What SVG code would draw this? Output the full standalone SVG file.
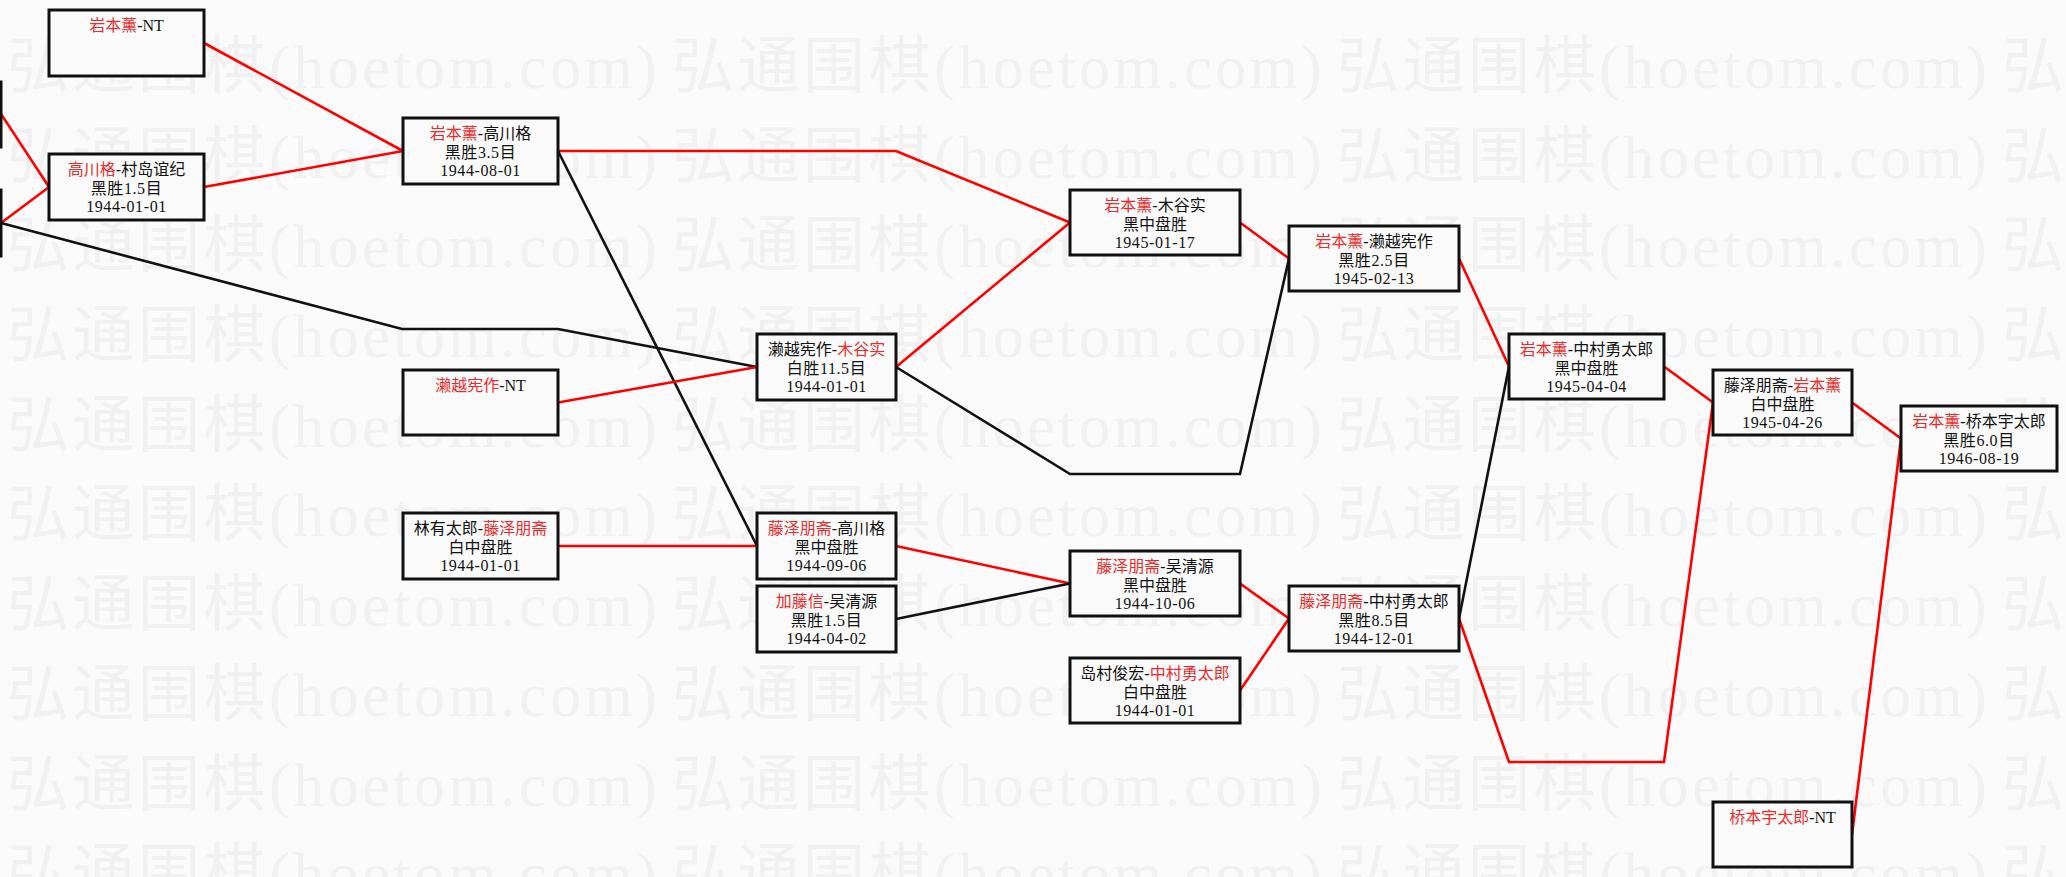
<svg xmlns="http://www.w3.org/2000/svg" xmlns:xlink="http://www.w3.org/1999/xlink" width="2066" height="877" viewBox="0 0 2066 877">
<style>
.bg{fill:#fbfbfb}
.wm{font-family:"Liberation Serif","Noto Sans CJK SC",serif;font-size:62px;fill:#f1f1f1}
.box{fill:#fbfbfb;stroke:#111;stroke-width:3}
.t{font-family:"Liberation Serif","Noto Sans CJK SC",serif;font-size:16px;fill:#111;text-anchor:middle}
.d{letter-spacing:0.6px}
.r{fill:#ee2a2a}
.lr{fill:none;stroke:#ff0000;stroke-width:2.6;stroke-linejoin:miter}
.lb{fill:none;stroke:#111;stroke-width:2.6;stroke-linejoin:miter}
</style>
<defs>
<g id="wmrow">
<text class="wm" x="7" y="0" textLength="650" lengthAdjust="spacing">弘通围棋(hoetom.com)</text>
<text class="wm" x="672" y="0" textLength="650" lengthAdjust="spacing">弘通围棋(hoetom.com)</text>
<text class="wm" x="1337" y="0" textLength="650" lengthAdjust="spacing">弘通围棋(hoetom.com)</text>
<text class="wm" x="2002" y="0" textLength="650" lengthAdjust="spacing">弘通围棋(hoetom.com)</text>
</g>
</defs>
<rect class="bg" x="0" y="0" width="2066" height="877"/>
<g id="watermark">
<use xlink:href="#wmrow" x="0" y="88"/>
<use xlink:href="#wmrow" x="0" y="178"/>
<use xlink:href="#wmrow" x="0" y="267"/>
<use xlink:href="#wmrow" x="0" y="357"/>
<use xlink:href="#wmrow" x="0" y="447"/>
<use xlink:href="#wmrow" x="0" y="536"/>
<use xlink:href="#wmrow" x="0" y="626"/>
<use xlink:href="#wmrow" x="0" y="716"/>
<use xlink:href="#wmrow" x="0" y="806"/>
<use xlink:href="#wmrow" x="0" y="895"/>
</g>
<g id="connectors">
<polyline class="lr" points="1,114 49,187"/>
<polyline class="lr" points="1,223 49,187"/>
<polyline class="lb" points="1,223 402,329 558,329 757,367"/>
<polyline class="lr" points="204,43 403,151"/>
<polyline class="lr" points="204,187 403,151"/>
<polyline class="lr" points="558,151 896,151 1070,222.5"/>
<polyline class="lb" points="558,151 757,546"/>
<polyline class="lr" points="558,402.5 757,367"/>
<polyline class="lr" points="558,546 757,546"/>
<polyline class="lr" points="896,367 1070,222.5"/>
<polyline class="lb" points="896,367 1070,474 1240,474 1289,258.5"/>
<polyline class="lr" points="896,546 1070,583.5"/>
<polyline class="lb" points="896,619 1070,583.5"/>
<polyline class="lr" points="1240,222.5 1289,258.5"/>
<polyline class="lr" points="1240,583.5 1289,618.5"/>
<polyline class="lr" points="1240,690.5 1289,618.5"/>
<polyline class="lr" points="1459,258.5 1509,366.5"/>
<polyline class="lb" points="1459,618.5 1509,366.5"/>
<polyline class="lr" points="1459,618.5 1509,762 1664,762 1713,402.5"/>
<polyline class="lr" points="1664,366.5 1713,402.5"/>
<polyline class="lr" points="1852,402.5 1901,438.5"/>
<polyline class="lr" points="1852,834.5 1901,438.5"/>
</g>
<g id="node-edge1"><rect class="box" x="-154" y="82" width="155" height="65"/></g>
<g id="node-edge2"><rect class="box" x="-154" y="190" width="155" height="66"/></g>
<g id="node-A"><rect class="box" x="49" y="10" width="155" height="66"/>
<text class="t" x="126.5" y="31"><tspan class="r">岩本薰</tspan>-NT</text></g>
<g id="node-B"><rect class="box" x="49" y="154" width="155" height="66"/>
<text class="t" x="126.5" y="175"><tspan class="r">高川格</tspan>-村岛谊纪</text>
<text class="t d" x="126.5" y="194">黑胜1.5目</text>
<text class="t d" x="126.5" y="212">1944-01-01</text></g>
<g id="node-C"><rect class="box" x="403" y="118" width="155" height="66"/>
<text class="t" x="480.5" y="139"><tspan class="r">岩本薰</tspan>-高川格</text>
<text class="t d" x="480.5" y="158">黑胜3.5目</text>
<text class="t d" x="480.5" y="176">1944-08-01</text></g>
<g id="node-D"><rect class="box" x="403" y="370" width="155" height="65"/>
<text class="t" x="480.5" y="391"><tspan class="r">濑越宪作</tspan>-NT</text></g>
<g id="node-E"><rect class="box" x="403" y="513" width="155" height="66"/>
<text class="t" x="480.5" y="534">林有太郎-<tspan class="r">藤泽朋斋</tspan></text>
<text class="t" x="480.5" y="553">白中盘胜</text>
<text class="t d" x="480.5" y="571">1944-01-01</text></g>
<g id="node-F"><rect class="box" x="757" y="334" width="139" height="66"/>
<text class="t" x="826.5" y="355">濑越宪作-<tspan class="r">木谷实</tspan></text>
<text class="t d" x="826.5" y="374">白胜11.5目</text>
<text class="t d" x="826.5" y="392">1944-01-01</text></g>
<g id="node-G"><rect class="box" x="757" y="513" width="139" height="66"/>
<text class="t" x="826.5" y="534"><tspan class="r">藤泽朋斋</tspan>-高川格</text>
<text class="t" x="826.5" y="553">黑中盘胜</text>
<text class="t d" x="826.5" y="571">1944-09-06</text></g>
<g id="node-H"><rect class="box" x="757" y="586" width="139" height="66"/>
<text class="t" x="826.5" y="607"><tspan class="r">加藤信</tspan>-吴清源</text>
<text class="t d" x="826.5" y="626">黑胜1.5目</text>
<text class="t d" x="826.5" y="644">1944-04-02</text></g>
<g id="node-I"><rect class="box" x="1070" y="190" width="170" height="65"/>
<text class="t" x="1155" y="211"><tspan class="r">岩本薰</tspan>-木谷实</text>
<text class="t" x="1155" y="230">黑中盘胜</text>
<text class="t d" x="1155" y="248">1945-01-17</text></g>
<g id="node-J"><rect class="box" x="1070" y="551" width="170" height="65"/>
<text class="t" x="1155" y="572"><tspan class="r">藤泽朋斋</tspan>-吴清源</text>
<text class="t" x="1155" y="591">黑中盘胜</text>
<text class="t d" x="1155" y="609">1944-10-06</text></g>
<g id="node-K"><rect class="box" x="1289" y="226" width="170" height="65"/>
<text class="t" x="1374" y="247"><tspan class="r">岩本薰</tspan>-濑越宪作</text>
<text class="t d" x="1374" y="266">黑胜2.5目</text>
<text class="t d" x="1374" y="284">1945-02-13</text></g>
<g id="node-L"><rect class="box" x="1289" y="586" width="170" height="65"/>
<text class="t" x="1374" y="607"><tspan class="r">藤泽朋斋</tspan>-中村勇太郎</text>
<text class="t d" x="1374" y="626">黑胜8.5目</text>
<text class="t d" x="1374" y="644">1944-12-01</text></g>
<g id="node-M"><rect class="box" x="1070" y="658" width="170" height="65"/>
<text class="t" x="1155" y="679">岛村俊宏-<tspan class="r">中村勇太郎</tspan></text>
<text class="t" x="1155" y="698">白中盘胜</text>
<text class="t d" x="1155" y="716">1944-01-01</text></g>
<g id="node-N"><rect class="box" x="1509" y="334" width="155" height="65"/>
<text class="t" x="1586.5" y="355"><tspan class="r">岩本薰</tspan>-中村勇太郎</text>
<text class="t" x="1586.5" y="374">黑中盘胜</text>
<text class="t d" x="1586.5" y="392">1945-04-04</text></g>
<g id="node-O"><rect class="box" x="1713" y="370" width="139" height="65"/>
<text class="t" x="1782.5" y="391">藤泽朋斋-<tspan class="r">岩本薰</tspan></text>
<text class="t" x="1782.5" y="410">白中盘胜</text>
<text class="t d" x="1782.5" y="428">1945-04-26</text></g>
<g id="node-P"><rect class="box" x="1901" y="406" width="156" height="65"/>
<text class="t" x="1979" y="427"><tspan class="r">岩本薰</tspan>-桥本宇太郎</text>
<text class="t d" x="1979" y="446">黑胜6.0目</text>
<text class="t d" x="1979" y="464">1946-08-19</text></g>
<g id="node-Q"><rect class="box" x="1713" y="802" width="139" height="65"/>
<text class="t" x="1782.5" y="823"><tspan class="r">桥本宇太郎</tspan>-NT</text></g>
</svg>
